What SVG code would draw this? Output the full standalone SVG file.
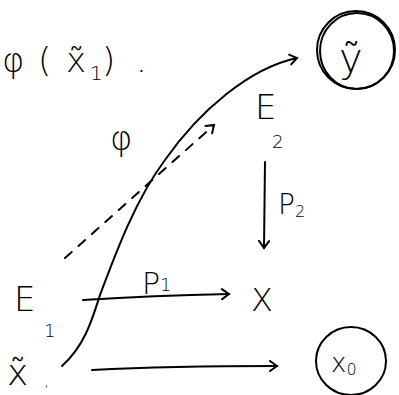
<svg xmlns="http://www.w3.org/2000/svg" width="399" height="395" viewBox="0 0 399 395">
<style>
.t{font-family:"DejaVu Sans","Liberation Sans",sans-serif;fill:#000;font-weight:300}
.ln{fill:none;stroke:#000;stroke-width:2;stroke-linecap:round;stroke-linejoin:round}
.ds{stroke-dasharray:9 9}
</style>
<defs>
<marker id="ah" markerWidth="14" markerHeight="14" refX="10" refY="6" orient="auto" markerUnits="userSpaceOnUse">
<path d="M3,1 L10,6 L3,11" fill="none" stroke="#000" stroke-width="2" stroke-linecap="round"/>
</marker>
</defs>
<rect width="399" height="395" fill="#fff"/>
<g id="caption">
<text class="t" x="2" y="72" font-size="34">φ</text>
<text class="t" x="38" y="72" font-size="34">(</text>
<text class="t" x="66" y="72" font-size="34">x̃</text>
<text class="t" x="90" y="80" font-size="20">1</text>
<text class="t" x="102" y="72" font-size="34">)</text>
<text class="t" x="136" y="72" font-size="34">.</text>
</g>
<g id="node-ytilde">
<ellipse class="ln" cx="356" cy="50" rx="39" ry="39"/>
<ellipse class="ln" cx="357" cy="51" rx="37" ry="38" stroke-width="1.5"/>
<text class="t" x="339" y="72" font-size="40">ỹ</text>
</g>
<g id="node-E2">
<text class="t" x="255" y="119" font-size="34">E</text>
<text class="t" x="272" y="148" font-size="18">2</text>
</g>
<g id="node-E1">
<text class="t" x="14" y="311" font-size="34">E</text>
<text class="t" x="44" y="337" font-size="18">1</text>
</g>
<g id="node-X">
<text class="t" x="251" y="311" font-size="32">X</text>
</g>
<g id="node-xtilde1">
<text class="t" x="7" y="385" font-size="36">x̃</text>
<text class="t" x="44" y="386" font-size="16">,</text>
</g>
<g id="node-x0">
<ellipse class="ln" cx="351" cy="361" rx="35" ry="34"/>
<text class="t" x="331" y="372" font-size="26">x<tspan font-size="16" dy="3">0</tspan></text>
</g>
<g id="connectors">
<path class="ln" d="M62,366 C85,345 92,320 100,295 C115,255 135,200 165,160 C200,110 250,68 297,58" marker-end="url(#ah)"/>
<path class="ln ds" d="M65,258 L214,125" marker-end="url(#ah)"/>
<path class="ln" d="M265,162 L264,248" marker-end="url(#ah)"/>
<path class="ln" d="M83,300 C130,297 180,295 229,294" marker-end="url(#ah)"/>
<path class="ln" d="M92,370 C150,367 220,366 277,366" marker-end="url(#ah)"/>
</g>
<g id="labels">
<text class="t" x="110" y="150" font-size="34">φ</text>
<text class="t" x="278" y="214" font-size="28">P<tspan font-size="16" dy="3">2</tspan></text>
<text class="t" x="142" y="294" font-size="30">P<tspan font-size="18" dy="-3">1</tspan></text>
</g>
</svg>
